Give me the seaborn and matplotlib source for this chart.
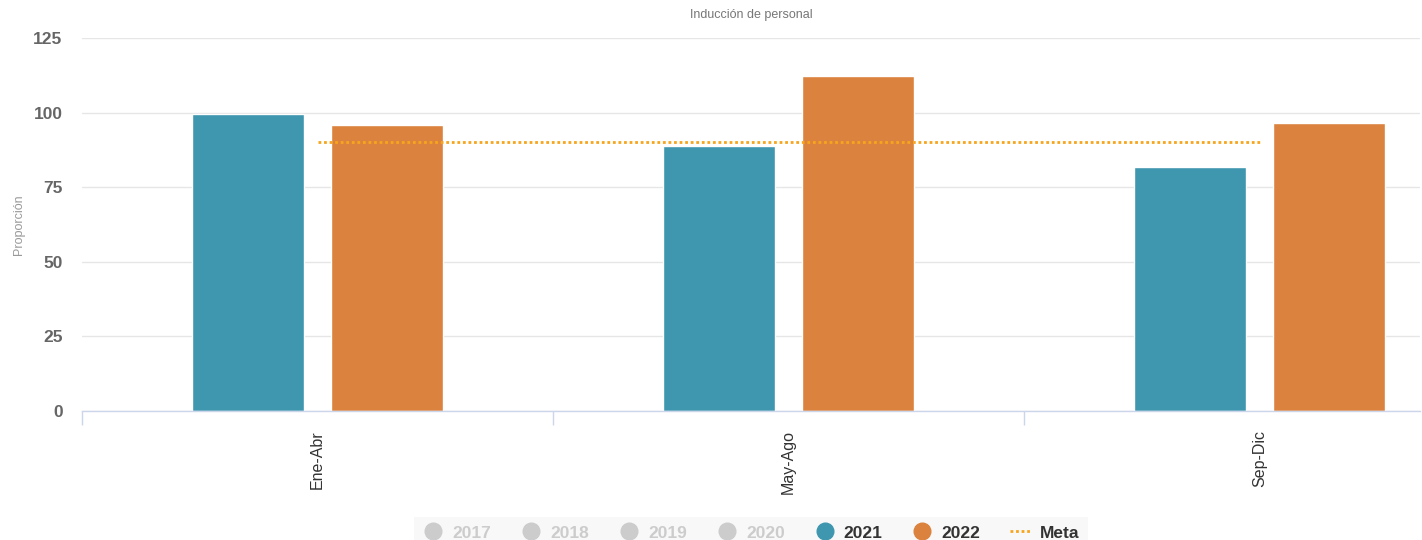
import numpy as np
import pandas as pd
import matplotlib
matplotlib.use("Agg")
import matplotlib.pyplot as plt
from matplotlib.lines import Line2D
import seaborn as sns

# datos
periodos = ["Ene-Abr", "May-Ago", "Sep-Dic"]
v2021 = [99.5, 88.8, 81.8]
v2022 = [95.8, 112.3, 96.5]
meta = [90, 90, 90]
anios_ocultos = ["2017", "2018", "2019", "2020"]
y_ticks = [0, 25, 50, 75, 100, 125]

teal = "#3e96af"
orange = "#db823e"
meta_color = "#f7a51c"
grid_color = "#e6e6e6"
axis_color = "#ccd6eb"

sns.set_style("white")
plt.rcParams["font.family"] = ["Liberation Sans", "DejaVu Sans"]
narrow = ["Liberation Sans Narrow", "Liberation Sans", "DejaVu Sans"]

df = pd.DataFrame({
    "Periodo": periodos * 2,
    "Año": ["2021"] * len(periodos) + ["2022"] * len(periodos),
    "Proporción": v2021 + v2022,
})

fig = plt.figure(figsize=(14.22, 5.4), dpi=100)
ax = fig.add_axes([82 / 1422, 1 - 411 / 540, (1420 - 82) / 1422, (411 - 38) / 540])

sns.barplot(data=df, x="Periodo", y="Proporción", hue="Año",
            palette={"2021": teal, "2022": orange}, width=0.594, gap=0.2,
            saturation=1, legend=False, ax=ax, zorder=2)

# linea de meta
ax.plot(np.arange(len(periodos)), meta, color=meta_color, lw=2,
        linestyle=(0, (1, 1)), dash_capstyle="butt", zorder=3)

ax.set_yticks(y_ticks)
ax.set_xticks(np.arange(-0.5, len(periodos) + 0.5, 1), minor=True)
ax.set_ylim(0, 125)
ax.set_xlim(-0.5, (1420 - 82) / 471 - 0.5)
ax.grid(axis="y", color=grid_color, lw=1, zorder=0)
ax.set_axisbelow(True)
for s in ["left", "right", "top"]:
    ax.spines[s].set_visible(False)
ax.spines["bottom"].set_color(axis_color)
ax.spines["bottom"].set_linewidth(1)

ax.tick_params(axis="x", which="minor", bottom=True, length=10, color=axis_color, width=1)
ax.tick_params(axis="x", which="major", bottom=True, length=0, pad=14)
ax.tick_params(axis="y", length=0, pad=14)
for lab in ax.get_xticklabels():
    lab.set_rotation(90)
    lab.set_fontsize(11.5)
    lab.set_color("#333333")
for lab in ax.get_yticklabels():
    lab.set_fontsize(12.5)
    lab.set_fontweight("bold")
    lab.set_color("#666666")
    lab.set_family(narrow)

ax.set_xlabel("")
ax.set_ylabel("Proporción", fontsize=9, color="#999999", labelpad=6)
fig.text(751 / 1422, 1 - 15 / 540, "Inducción de personal", ha="center",
         va="center", fontsize=9, color="#777777")

handles = []
labels = []
for a in anios_ocultos:
    handles.append(Line2D([], [], marker="o", ls="", markersize=12, color="#cccccc"))
    labels.append(a)
handles.append(Line2D([], [], marker="o", ls="", markersize=12, color=teal))
labels.append("2021")
handles.append(Line2D([], [], marker="o", ls="", markersize=12, color=orange))
labels.append("2022")
handles.append(Line2D([], [], color=meta_color, lw=2, linestyle=(0, (1, 1))))
labels.append("Meta")

leg = fig.legend(handles, labels, loc="upper center", ncol=7,
                 bbox_to_anchor=(751 / 1422, 1 - 508 / 540),
                 frameon=True, facecolor="#f7f7f7", edgecolor="none",
                 fancybox=False, handlelength=1.2, handletextpad=0.5,
                 columnspacing=1.7, borderpad=0.5,
                 prop={"family": narrow, "weight": "bold", "size": 12.5})
for t, l in zip(leg.get_texts(), labels):
    t.set_color("#cccccc" if l in anios_ocultos else "#333333")

fig.savefig("out.png", dpi=100)
